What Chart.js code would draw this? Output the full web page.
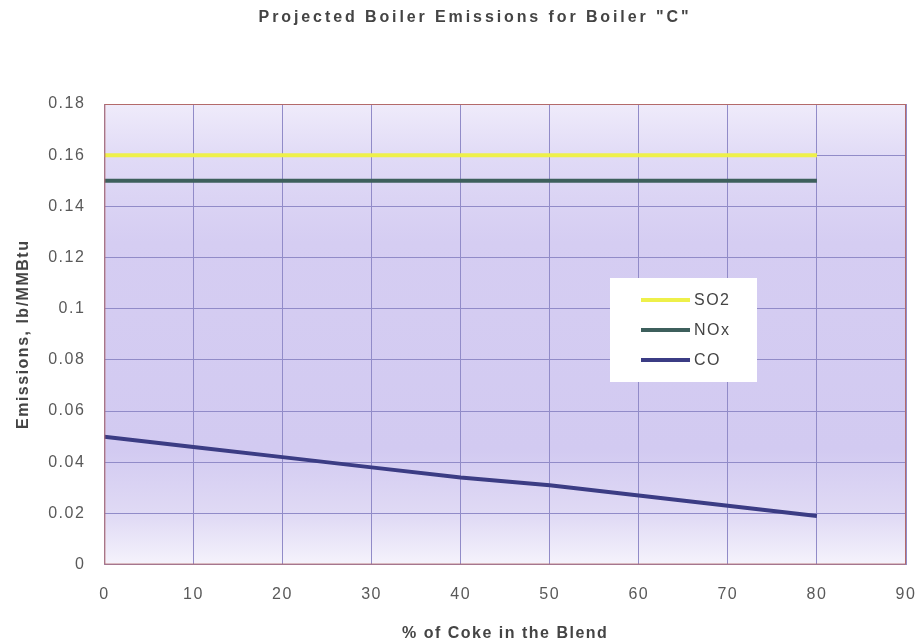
<!DOCTYPE html>
<html>
<head>
<meta charset="utf-8">
<script src="https://cdn.jsdelivr.net/npm/chart.js@4.4.1/dist/chart.umd.min.js"></script>
<style>
  html, body { margin: 0; padding: 0; background: #fff; }
  #wrap { width: 921px; height: 640px; position: relative; }
</style>
</head>
<body>
<div id="wrap"><canvas id="myChart" width="921" height="640"></canvas></div>
<script>
var coke = [0, 10, 20, 30, 40, 50, 60, 70, 80];
var so2 = [0.16, 0.16, 0.16, 0.16, 0.16, 0.16, 0.16, 0.16, 0.16];
var nox = [0.15, 0.15, 0.15, 0.15, 0.15, 0.15, 0.15, 0.15, 0.15];
var co = [0.05, 0.046, 0.042, 0.038, 0.034, 0.031, 0.027, 0.023, 0.019];
var seriesNames = ["SO2", "NOx", "CO"];
var seriesColors = ["#eef04a", "#3d5f5c", "#3b3c84"];
var chartTitle = 'Projected Boiler Emissions for Boiler "C"';

var FONT = '"Liberation Sans", Arial, sans-serif';

function pts(ys) {
    return coke.map(function (x, i) { return {x: x, y: ys[i]}; });
}

// the scanned original has wide lettering
function spacing(chart) {
    chart.ctx.letterSpacing = '1.5px';
}

var plotBg = {
    id: 'plotBg',
    beforeUpdate: spacing,
    beforeLayout: spacing,
    beforeDraw: function (chart) {
        spacing(chart);
        var a = chart.chartArea, c = chart.ctx;
        var g = c.createLinearGradient(0, a.top, 0, a.bottom);
        g.addColorStop(0, '#efebfa');
        g.addColorStop(0.12, '#e0daf6');
        g.addColorStop(0.3, '#d5cdf2');
        g.addColorStop(0.75, '#d2caf1');
        g.addColorStop(0.9, '#e1dbf5');
        g.addColorStop(1, '#f5f3fc');
        c.save();
        c.fillStyle = g;
        c.fillRect(a.left, a.top, a.right - a.left, a.bottom - a.top);
        c.restore();
    },
    afterDraw: function (chart) {
        var a = chart.chartArea, c = chart.ctx;
        c.save();
        c.strokeStyle = '#b36a6a';
        c.lineWidth = 1;
        c.strokeRect(a.left + 0.5, a.top + 0.5, a.right - a.left - 1, a.bottom - a.top - 1);

        // title
        c.letterSpacing = '2.9px';
        c.font = 'bold 16px ' + FONT;
        c.fillStyle = '#444';
        c.textAlign = 'center';
        c.textBaseline = 'middle';
        c.fillText(chartTitle, 475, 18);

        // legend box
        c.letterSpacing = '1.5px';
        c.textAlign = 'left';
        var bx = 610, by = 278, bw = 147, bh = 104;
        c.fillStyle = '#ffffff';
        c.fillRect(bx, by, bw, bh);
        c.font = '16px ' + FONT;
        chart.data.datasets.forEach(function (ds, i) {
            var y = by + 22 + i * 30;
            c.strokeStyle = ds.borderColor;
            c.lineWidth = 4;
            c.beginPath();
            c.moveTo(641, y);
            c.lineTo(690, y);
            c.stroke();
            c.fillStyle = '#444';
            c.fillText(ds.label, 694, y + 1);
        });
        c.restore();
    }
};

var ctx = document.getElementById("myChart");
var myChart = new Chart(ctx, {
    type: 'line',
    data: {
        datasets: seriesNames.map(function (name, i) {
            return {
                label: name,
                data: pts([so2, nox, co][i]),
                borderColor: seriesColors[i],
                borderWidth: 4,
                pointRadius: 0,
                tension: 0,
                fill: false
            };
        })
    },
    options: {
        responsive: false,
        animation: false,
        layout: {padding: {left: 0, right: 0, top: 104, bottom: 0}},
        plugins: {
            legend: {display: false},
            tooltip: {enabled: false},
            title: {display: false}
        },
        scales: {
            x: {
                type: 'linear',
                min: 0,
                max: 90,
                afterFit: function (scale) {
                    scale.paddingRight = 15;
                },
                ticks: {stepSize: 10, color: '#595959', padding: 20,
                    font: {family: FONT, size: 16}},
                grid: {color: '#918bc8', lineWidth: 1, drawTicks: false},
                border: {display: false},
                title: {display: true, text: '% of Coke in the Blend', color: '#444',
                    font: {family: FONT, size: 16, weight: 'bold'},
                    padding: {top: 0, bottom: -3}}
            },
            y: {
                min: 0,
                max: 0.18,
                ticks: {stepSize: 0.02, color: '#595959', padding: 19,
                    font: {family: FONT, size: 16},
                    callback: function (v) { return v === 0 ? '0' : +v.toFixed(2) + ''; }},
                grid: {color: '#918bc8', lineWidth: 1, drawTicks: false},
                border: {display: false},
                title: {display: true, text: 'Emissions, lb/MMBtu', color: '#444',
                    font: {family: FONT, size: 16, weight: 'bold'},
                    padding: {top: 14, bottom: -4}}
            }
        }
    },
    plugins: [plotBg]
});
</script>
</body>
</html>
